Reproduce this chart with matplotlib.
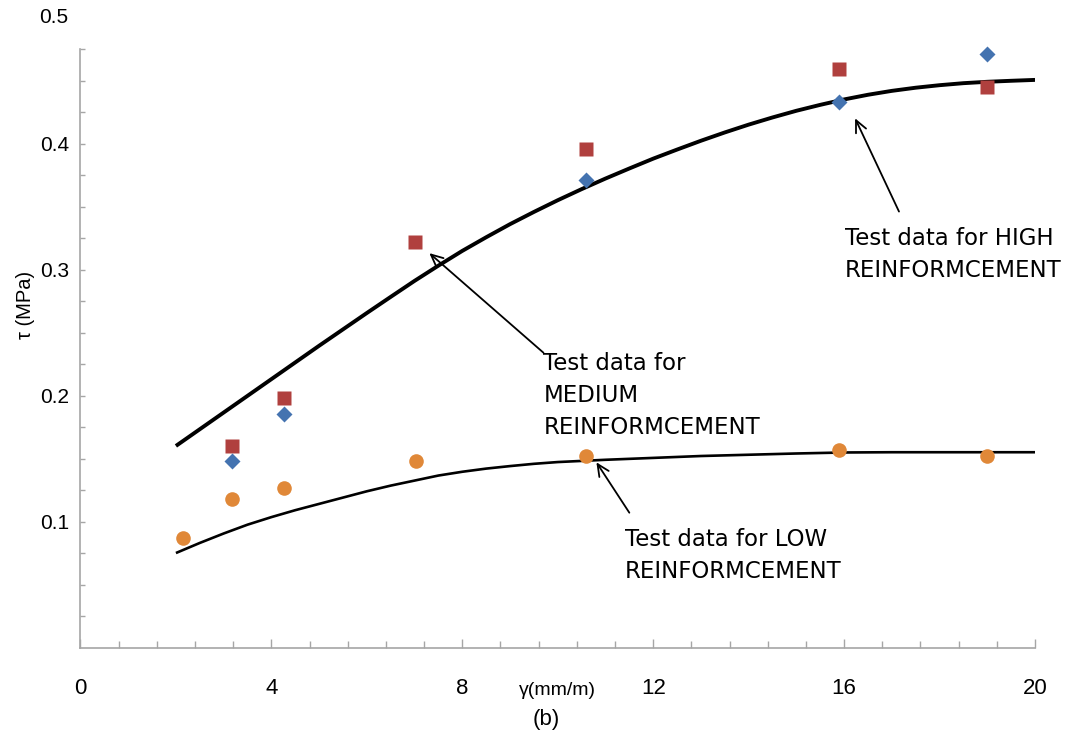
import numpy as np
import matplotlib
matplotlib.use("Agg")
import matplotlib.pyplot as plt
from matplotlib.ticker import MultipleLocator, FixedLocator, FormatStrFormatter
from matplotlib.transforms import blended_transform_factory

plt.rcParams["font.family"] = ["Liberation Sans", "DejaVu Sans"]

# Test data: shear strain (mm/m) vs shear stress (MPa)
low_x = [2.14, 3.18, 4.27, 7.02, 10.6, 15.9, 19.0]
low_y = [0.087, 0.118, 0.127, 0.148, 0.152, 0.157, 0.152]

medium_x = [3.18, 4.27, 7.0, 10.6, 15.9, 19.0]
medium_y = [0.160, 0.198, 0.322, 0.396, 0.459, 0.445]

high_x = [3.18, 4.27, 10.6, 15.9, 19.0]
high_y = [0.148, 0.185, 0.371, 0.433, 0.471]

# Model curves
fit_high_x = [2, 3, 4, 5, 6, 6.5, 7, 7.5, 8, 8.5, 9, 9.5, 10, 10.5, 11, 11.5,
              12, 12.5, 13, 13.5, 14, 14.5, 15, 15.5, 16, 16.5, 17, 17.5, 18,
              18.5, 19, 19.5, 20]
fit_high_y = [0.160, 0.1865, 0.213, 0.2395, 0.2655, 0.2783, 0.2910, 0.3031,
              0.3148, 0.3256, 0.3360, 0.3457, 0.3550, 0.3638, 0.3722, 0.3802,
              0.3880, 0.3952, 0.4022, 0.4088, 0.4150, 0.4207, 0.4260, 0.4307,
              0.4350, 0.4387, 0.4418, 0.4443, 0.4463, 0.4479, 0.4490, 0.4498,
              0.4505]
fit_low_x = [2, 2.5, 3, 3.5, 4, 4.5, 5, 5.5, 6, 6.5, 7, 7.5, 8, 8.5, 9, 9.5, 10,
             11, 12, 13, 14, 15, 16, 17, 18, 19, 20]
fit_low_y = [0.075, 0.083, 0.0905, 0.0975, 0.1035, 0.109, 0.114, 0.119, 0.124,
             0.1285, 0.1325, 0.1365, 0.1395, 0.142, 0.144, 0.1458, 0.1472,
             0.149, 0.1505, 0.152, 0.153, 0.154, 0.1548, 0.155, 0.155, 0.155, 0.155]

x_ticks = [0, 4, 8, 12, 16, 20]
y_ticks = [0.1, 0.2, 0.3, 0.4]

axis_grey = "#a6a6a6"
note_font = ["DejaVu Sans"]

fig = plt.figure(figsize=(10.83, 7.46), dpi=100)
ax = fig.add_axes([0.0743, 0.1320, 0.8814, 0.8445])
ax.set_xlim(0, 20)
ax.set_ylim(0, 0.5)

for side in ("top", "right"):
    ax.spines[side].set_visible(False)
for side in ("left", "bottom"):
    ax.spines[side].set_color(axis_grey)
    ax.spines[side].set_linewidth(1.2)
ax.spines["left"].set_bounds(0, 0.475)

# curves
ax.plot(fit_high_x, fit_high_y, color="black", lw=2.8, solid_joinstyle="round",
        solid_capstyle="butt", zorder=3)
ax.plot(fit_low_x, fit_low_y, color="black", lw=1.9, solid_joinstyle="round",
        solid_capstyle="butt", zorder=3)

# markers
ax.plot(low_x, low_y, "o", ms=10.5, color="#e08838", mec="none", zorder=4)
ax.plot(medium_x, medium_y, "s", ms=10.5, color="#b0403e", mec="none", zorder=4)
ax.plot(high_x, high_y, "D", ms=8.0, color="#4473b0", mec="none", zorder=4)

# ticks
ax.xaxis.set_major_locator(FixedLocator(x_ticks))
ax.xaxis.set_minor_locator(MultipleLocator(0.8))
ax.tick_params(axis="x", which="major", direction="in", length=6.5, width=1.0,
               color=axis_grey, pad=22, labelsize=16)
ax.tick_params(axis="x", which="minor", direction="in", length=5, width=1.0,
               color=axis_grey)

ax.yaxis.set_major_locator(FixedLocator(y_ticks))
ax.yaxis.set_minor_locator(FixedLocator([k * 0.025 for k in range(1, 20)]))
ax.tick_params(axis="y", which="both", direction="in", length=3.6, width=1.0,
               color=axis_grey)
ax.tick_params(axis="y", which="major", pad=8, labelsize=15)
ax.yaxis.set_major_formatter(FormatStrFormatter("%.1f"))

ytrans = blended_transform_factory(ax.transAxes, ax.transData)
ax.text(-0.013, 0.5, "0.5", transform=ytrans, ha="right", va="center",
        fontsize=15, clip_on=False)

ax.text(-0.058, 0.272, "τ (MPa)", transform=ytrans, rotation=90, ha="center",
        va="center", fontsize=14.5, clip_on=False)
ax.text(0.5, -0.068, "γ(mm/m)", transform=ax.transAxes, ha="center",
        va="center", fontsize=14, clip_on=False)
fig.text(0.504, 0.035, "(b)", ha="center", va="center", fontsize=16)

# annotations
arrow = dict(arrowstyle="->,head_length=0.85,head_width=0.4", lw=1.3,
             color="black", shrinkA=0, shrinkB=0)
ax.annotate("", xy=(16.23, 0.420), xytext=(17.15, 0.346), arrowprops=arrow)
ax.annotate("", xy=(7.31, 0.313), xytext=(9.70, 0.234), arrowprops=arrow)
ax.annotate("", xy=(10.81, 0.147), xytext=(11.50, 0.107), arrowprops=arrow)

note_kw = dict(ha="left", va="center", fontsize=16.5, family=note_font,
               linespacing=1.5)
ax.text(16.02, 0.312, "Test data for HIGH\nREINFORMCEMENT", **note_kw)
ax.text(9.70, 0.200, "Test data for\nMEDIUM\nREINFORMCEMENT", **note_kw)
ax.text(11.41, 0.073, "Test data for LOW\nREINFORMCEMENT", **note_kw)

fig.savefig("out.png", dpi=100)
